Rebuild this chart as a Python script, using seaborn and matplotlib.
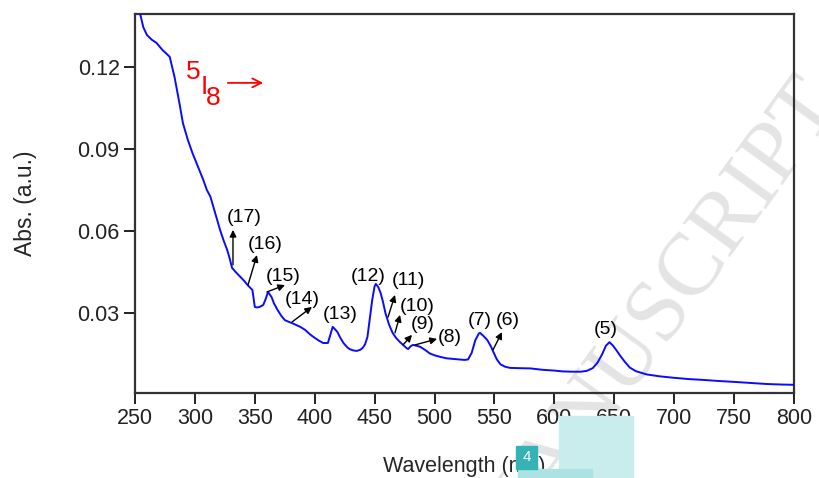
import numpy as np
import pandas as pd
import seaborn as sns
import matplotlib.pyplot as plt
from matplotlib.patches import Rectangle

# absorption spectrum
wavelength = [254, 257, 260, 264, 268, 273, 276, 279, 283, 287, 290, 294, 298, 303, 307, 310,
              313, 317, 321, 324, 327, 329, 331, 334, 338, 341, 344, 348, 350, 352, 354, 357,
              359, 361, 364, 366, 369, 372, 375, 378, 381, 385, 388, 392, 396, 399, 403, 407,
              411, 413, 415, 417, 419, 421, 424, 427, 429, 432, 435, 438, 440, 442, 444, 446,
              448, 450, 451, 453, 455, 457, 459, 462, 465, 468, 471, 474, 477, 478, 480, 482,
              485, 488, 492, 496, 500, 505, 510, 515, 520, 525, 528, 531, 534, 537, 538, 541,
              544, 547, 549, 552, 555, 559, 563, 570, 580, 590, 600, 607, 615, 622, 627, 632,
              636, 640, 643, 646, 649, 652, 655, 659, 663, 668, 677, 688, 699, 712, 724, 737,
              749, 763, 777, 790, 800]
absorb = [0.1400, 0.1345, 0.1317, 0.1300, 0.1288, 0.1262, 0.1250, 0.1237, 0.1164, 0.1070,
          0.0995, 0.0935, 0.0885, 0.0830, 0.0787, 0.0750, 0.0725, 0.0665, 0.0604, 0.0565,
          0.0530, 0.0500, 0.0465, 0.0450, 0.0432, 0.0418, 0.0402, 0.0384, 0.0322, 0.0320,
          0.0322, 0.0329, 0.0350, 0.0377, 0.0358, 0.0335, 0.0311, 0.0290, 0.0274, 0.0268,
          0.0263, 0.0255, 0.0249, 0.0238, 0.0222, 0.0212, 0.0200, 0.0190, 0.0190, 0.0220,
          0.0249, 0.0240, 0.0230, 0.0212, 0.0190, 0.0175, 0.0168, 0.0163, 0.0161, 0.0165,
          0.0172, 0.0185, 0.0212, 0.0280, 0.0348, 0.0398, 0.0406, 0.0395, 0.0373, 0.0340,
          0.0300, 0.0258, 0.0227, 0.0208, 0.0194, 0.0182, 0.0170, 0.0168, 0.0178, 0.0183,
          0.0180, 0.0176, 0.0165, 0.0152, 0.0145, 0.0139, 0.0134, 0.0132, 0.0130, 0.0128,
          0.0130, 0.0154, 0.0200, 0.0225, 0.0227, 0.0215, 0.0201, 0.0178, 0.0158, 0.0130,
          0.0112, 0.0103, 0.0099, 0.0098, 0.0097, 0.0092, 0.0089, 0.0086, 0.0085, 0.0085,
          0.0088, 0.0098, 0.0118, 0.0150, 0.0180, 0.0193, 0.0180, 0.0162, 0.0143, 0.0120,
          0.0100, 0.0087, 0.0075, 0.0068, 0.0063, 0.0058, 0.0055, 0.0051, 0.0048, 0.0044,
          0.0040, 0.0038, 0.0037]

# transition labels: text position and optional arrow (tail -> head)
peak_labels = ["(17)", "(16)", "(15)", "(14)", "(13)", "(12)", "(11)", "(10)", "(9)", "(8)", "(7)", "(6)", "(5)"]
label_x = [341, 358.5, 373.5, 389.4, 421.1, 444.5, 477.9, 485.4, 490.4, 512.9, 538.0, 561.4, 643.2]
label_y = [0.0651, 0.0549, 0.0435, 0.0348, 0.0293, 0.0435, 0.0417, 0.0322, 0.0256, 0.0209, 0.0271, 0.0274, 0.0241]
arrows = [((331.8, 0.0476), (331.8, 0.0604)),
          ((344.3, 0.0402), (351.8, 0.0512)),
          ((360.2, 0.0377), (375.2, 0.0402)),
          ((381.1, 0.0267), (397.7, 0.0322)),
          None, None,
          ((461.2, 0.0285), (467.0, 0.0366)),
          ((467.0, 0.0227), (471.2, 0.0293)),
          ((473.7, 0.0183), (481.2, 0.0220)),
          ((483.7, 0.0183), (502.1, 0.0205)),
          None,
          ((548.8, 0.0165), (556.3, 0.0230)),
          None]

df = pd.DataFrame({"wl": wavelength, "abs": absorb})

sns.set_style("ticks")
plt.rcParams['font.family'] = ['Liberation Sans', 'DejaVu Sans']

fig = plt.figure(figsize=(8.19, 4.78), dpi=100)
ax = fig.add_axes([0.1648, 0.1778, 0.8047, 0.7929])
ax.patch.set_alpha(0)

# watermark and page artefacts seen in the picture
ax.text(0.80, 0.33, "MANUSCRIPT", transform=fig.transFigure, rotation=54,
        fontsize=64, color="#e4e4e4", ha="center", va="center", zorder=0,
        family=["Liberation Serif", "DejaVu Serif"])
fig.patches.append(Rectangle((559 / 819, 0), 74 / 819, 62 / 478, transform=fig.transFigure,
                             color="#c9ecec", zorder=0))
fig.patches.append(Rectangle((518 / 819, 0), 74 / 819, 9 / 478, transform=fig.transFigure,
                             color="#ade2e2", zorder=0))
fig.patches.append(Rectangle((516 / 819, 9 / 478), 21 / 819, 23 / 478, transform=fig.transFigure,
                             color="#33b3b3", zorder=1))
fig.text(526.5 / 819, 21 / 478, "4", color="white", fontsize=11, ha="center", va="center")

sns.lineplot(data=df, x="wl", y="abs", color="#0a0aff", linewidth=1.4,
             sort=False, estimator=None, ax=ax, zorder=3)

for lab, lx, ly, arr in zip(peak_labels, label_x, label_y, arrows):
    ax.text(lx, ly, lab, fontsize=14, ha="center", va="center", color="black")
    if arr is not None:
        ax.annotate("", xy=arr[1], xytext=arr[0],
                    arrowprops=dict(arrowstyle="-|>", color="black", lw=1.0,
                                    mutation_scale=10, shrinkA=0, shrinkB=0))

# 5I8 ground state label
ax.text(298.5, 0.1182, "5", color="red", fontsize=19, ha="center", va="center")
ax.text(307.5, 0.1128, "I", color="red", fontsize=19, ha="center", va="center")
ax.text(315.0, 0.1088, "8", color="red", fontsize=19, ha="center", va="center")
ax.annotate("", xy=(357, 0.1142), xytext=(327.5, 0.1142),
            arrowprops=dict(arrowstyle="->", color="red", lw=1.3, mutation_scale=16,
                            shrinkA=0, shrinkB=0))

ax.set_xlim(250, 800)
ax.set_ylim(0.0007, 0.1394)
ax.set_xticks(np.arange(250, 801, 50))
ax.set_yticks([0.03, 0.06, 0.09, 0.12])
ax.set_yticklabels(["0.03", "0.06", "0.09", "0.12"])
ax.tick_params(direction="out", length=8, width=1.4, labelsize=15.5, colors="#222222", pad=3)
for s in ax.spines.values():
    s.set_visible(True)
    s.set_linewidth(1.6)
    s.set_color("#333333")
ax.set_xlabel("Wavelength (nm)", fontsize=15.5, labelpad=19)
ax.set_ylabel("Abs. (a.u.)", fontsize=16.5, labelpad=29)

fig.savefig("out.png", dpi=100)
